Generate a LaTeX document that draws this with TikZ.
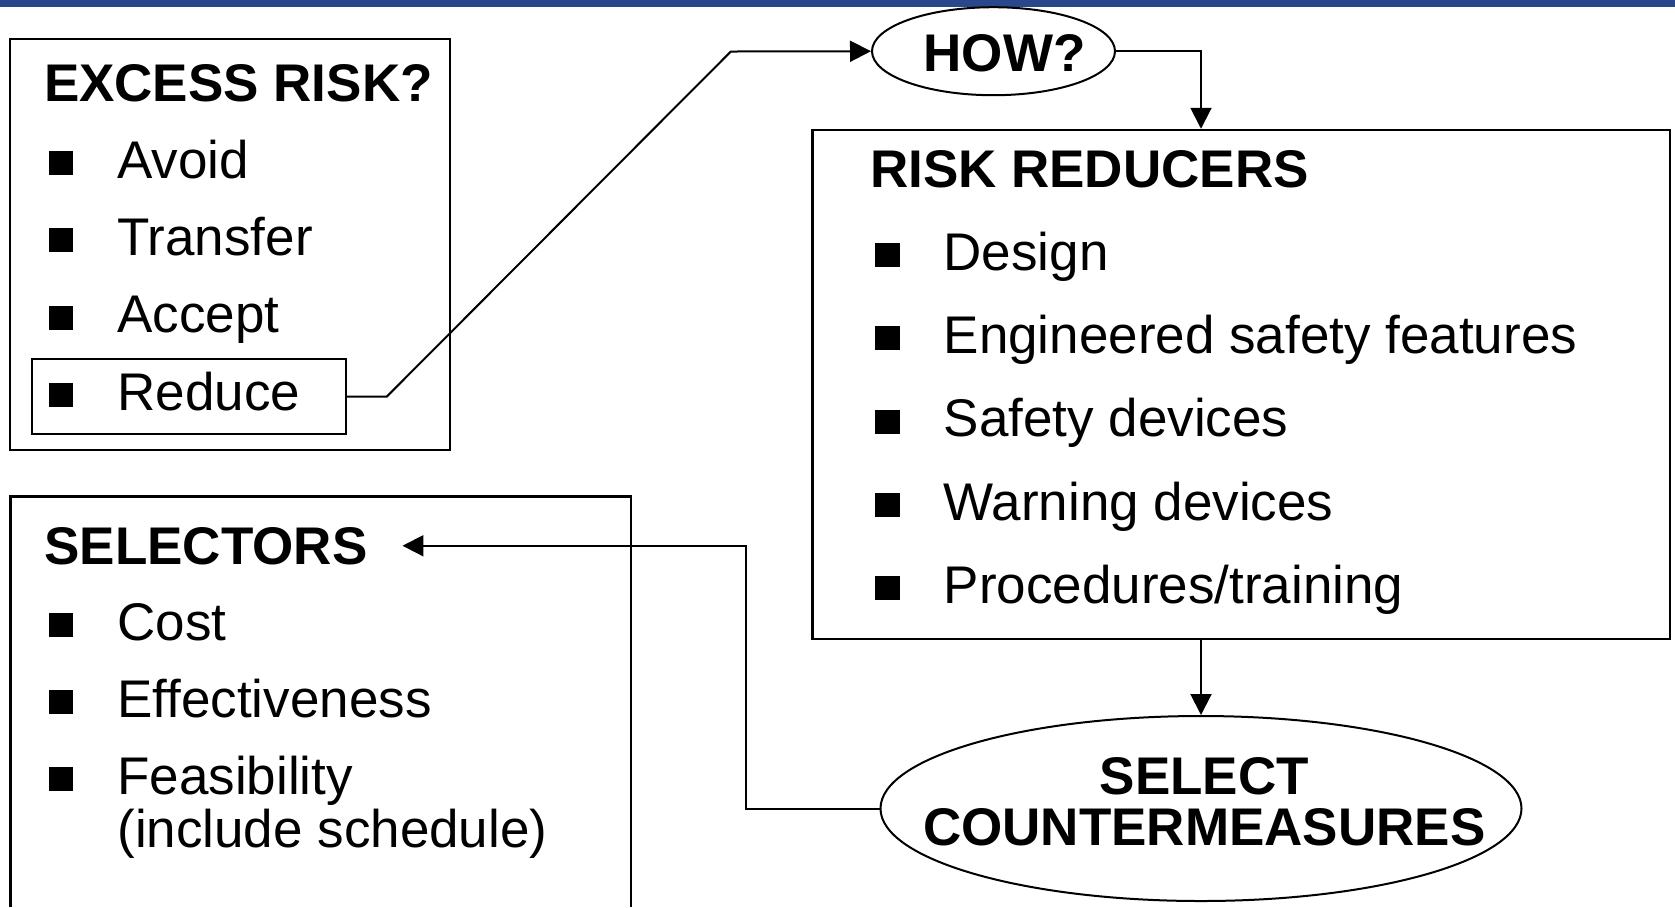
\documentclass[tikz,border=0pt]{standalone}
\usepackage{fontspec}
\setmainfont{Liberation Sans}
\usetikzlibrary{shapes.geometric, positioning, arrows.meta, fit}
\definecolor{barblue}{RGB}{41,71,139}
\newcommand{\blt}{\rule[0.9pt]{7.4pt}{7.2pt}\hspace{13.2pt}}
\tikzset{
	box/.style={
		rectangle,
		draw=black, line width=0.75pt,
		inner sep=0pt,
	},
	oval/.style={
		ellipse,
		draw=black, line width=0.6pt,
		inner sep=0pt,
		font=\fontsize{15.9}{15.2}\selectfont\bfseries,
		align=center,
	},
	heading/.style={anchor=base west, inner sep=0pt, font=\fontsize{15.9}{15.2}\selectfont\bfseries},
	entry/.style={anchor=base west, inner sep=0pt, font=\fontsize{15.9}{15.2}\selectfont},
}

\begin{document}
\begin{tikzpicture}[x=0.3pt, y=-0.3pt, line width=0.6pt, >={Triangle[length=6.3pt,width=6.3pt]}]
	\useasboundingbox (0,0) rectangle (1675,907);
	\fill[barblue] (0,0) rectangle (1675,7.3);

	% options for excess risk
	\node[box, fit={(10,39) (450,450)}] (excess) {};
	\node[heading] (excesshead) at (43,101) {EXCESS RISK?};
	\node[entry] (avoid) at (47.7,178) {\blt Avoid};
	\node[entry] (transfer) at ([yshift=-23.2pt]avoid.base west) {\blt Transfer};
	\node[entry] (accept) at ([yshift=-23.2pt]transfer.base west) {\blt Accept};
	\node[entry] (reduce) at ([yshift=-23.2pt]accept.base west) {\blt Reduce};
	\node[box, line width=0.7pt, fit={(32.3,359) (345.7,434)}] (reducebox) {};

	% selection criteria (box runs off the bottom)
	\draw[line width=0.75pt] (10.7,907) |- (631,496.7) -- (631,907);
	\node[heading] (selhead) at (43.5,564) {SELECTORS};
	\node[entry] (cost) at (47.7,640) {\blt Cost};
	\node[entry] (effect) at ([yshift=-23.1pt]cost.base west) {\blt Effectiveness};
	\node[entry] (feas) at ([yshift=-23.1pt]effect.base west) {\blt\begin{tabular}[t]{@{}l@{}}Feasibility\\(include schedule)\end{tabular}};

	% risk reducers
	\node[oval, minimum width=72.9pt, minimum height=26.4pt] (how) at (993.5,51.2) {};
	\node[oval, draw=none] (howtext) at ([xshift=3.3pt, yshift=-0.6pt]how.center) {HOW?};
	\node[box, fit={(812.7,130) (1670,639)}] (risk) {};
	\node[heading] (riskhead) at (869,187) {RISK REDUCERS};
	\node[entry] (design) at (874,270) {\blt Design};
	\node[entry] (eng) at ([yshift=-25pt]design.base west) {\blt Engineered safety features};
	\node[entry] (devices) at ([yshift=-25pt]eng.base west) {\blt Safety devices};
	\node[entry] (warning) at ([yshift=-25pt]devices.base west) {\blt Warning devices};
	\node[entry] (proc) at ([yshift=-25pt]warning.base west) {\blt Procedures/training};

	\node[oval, minimum width=192.3pt, minimum height=55.5pt] (sel) at (1201,808.5) {};
	\node[oval, draw=none] (seltext) at ([xshift=1pt, yshift=2.1pt]sel.center) {SELECT\\COUNTERMEASURES};

	\draw[->] (reducebox.east) -- ++(40,0) -- ++(344,-345) -- (how.west);
	\draw[->] (how.east) -| (sel.north |- risk.north);
	\draw[->] (risk.south -| sel.north) -- (sel.north);
	\draw[->, shorten >=10.2pt] (sel.west) -- ++(-134,0) |- (selhead.east);
\end{tikzpicture}
\end{document}
